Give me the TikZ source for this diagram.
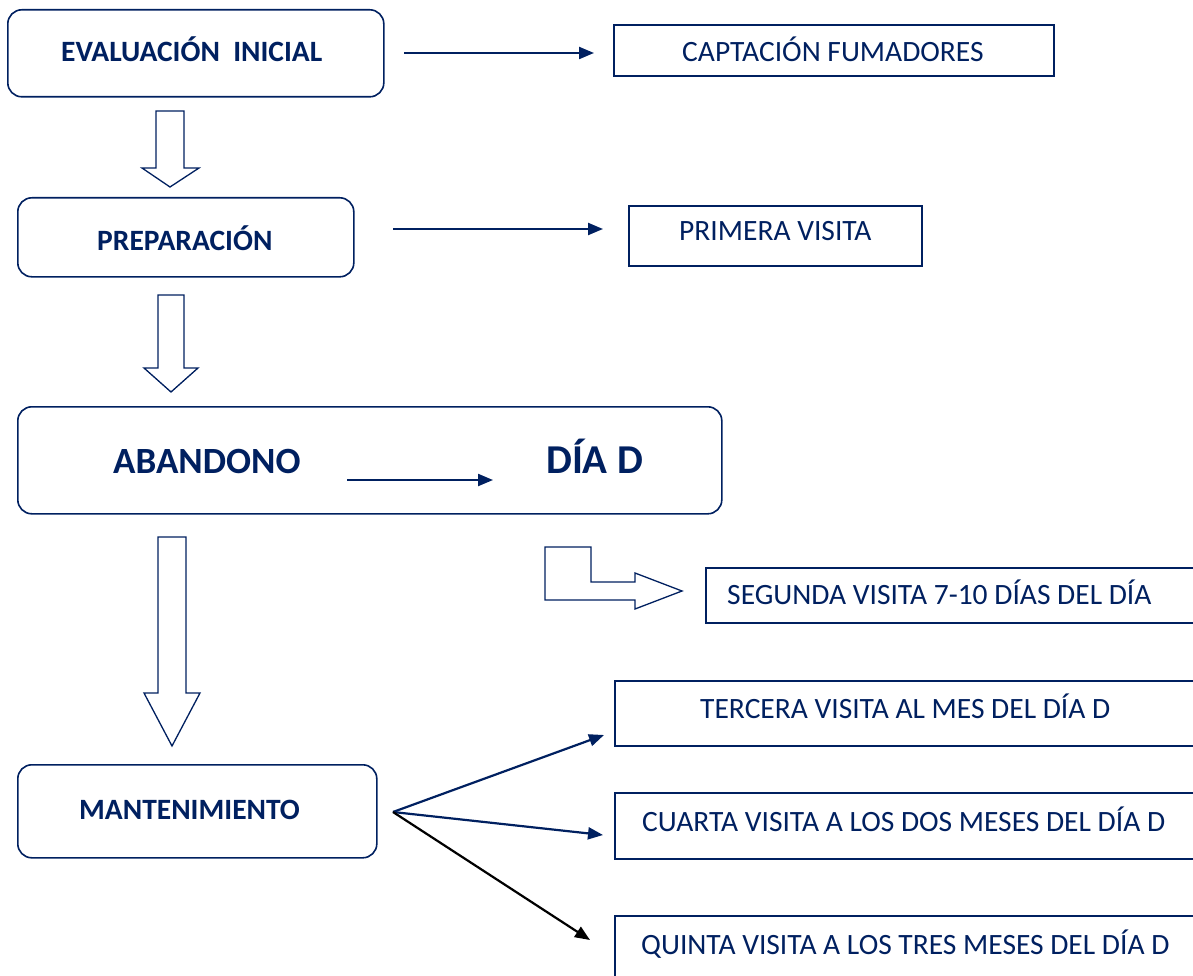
\documentclass[tikz,border=0pt]{standalone}
\usepackage{fontspec}
\setmainfont{Carlito}
\usetikzlibrary{arrows.meta}
\definecolor{navy}{RGB}{0,32,96}
\tikzset{
  rbox/.style={draw=navy, line width=1.6pt, rounded corners=14pt, fill=white, inner sep=0pt},
  sbox/.style={draw=navy, line width=1.6pt, fill=white, inner sep=0pt},
  btxt/.style={text=navy, font=\bfseries\fontsize{29.5}{34}\selectfont, inner sep=0pt, anchor=base west},
  bigtxt/.style={text=navy, font=\bfseries\fontsize{37}{42}\selectfont, inner sep=0pt, anchor=base west},
  rtxt/.style={text=navy, font=\fontsize{29.5}{34}\selectfont, inner sep=0pt, anchor=base west},
  conn/.style={draw=navy, line width=2.2pt, -{Triangle[length=15pt,width=12pt]}},
  connk/.style={draw=black, line width=2.2pt, -{Triangle[length=15pt,width=12pt]}},
  hollow/.style={draw=navy, line width=1.3pt, fill=white, line join=miter}
}
\begin{document}
\begin{tikzpicture}[x=1pt,y=-1pt]
\useasboundingbox (0,0) rectangle (1193,976);
% left boxes
\node[rbox, minimum width=376pt, minimum height=87pt, anchor=north west] (ev) at (7,9) {};
\node[btxt] (evt) at (61,62) {EVALUACIÓN\ \ INICIAL};
\node[rbox, minimum width=336pt, minimum height=79pt, anchor=north west] (pr) at (17,197) {};
\node[btxt] (prt) at (97,250.5) {PREPARACIÓN};
\node[rbox, minimum width=704pt, minimum height=107pt, anchor=north west] (ab) at (17,406) {};
\node[bigtxt] (abt) at (113,473) {ABANDONO};
\node[bigtxt, font=\bfseries\fontsize{41}{46}\selectfont] (dia) at (546,473) {DÍA D};
\node[rbox, minimum width=359pt, minimum height=93pt, anchor=north west] (ma) at (17,764) {};
\node[btxt] (mat) at (79,819.5) {MANTENIMIENTO};
% right boxes
\node[sbox, minimum width=440pt, minimum height=51pt, anchor=north west] (ca) at (613,24) {};
\node[rtxt] (cat) at (682,62) {CAPTACIÓN FUMADORES};
\node[sbox, minimum width=293pt, minimum height=60pt, anchor=north west] (pv) at (628,205) {};
\node[rtxt] (pvt) at (679,241) {PRIMERA VISITA};
\node[sbox, minimum width=500pt, minimum height=55pt, anchor=north west] (sv) at (705,567) {};
\node[rtxt] (svt) at (727,604) {SEGUNDA VISITA 7-10 DÍAS DEL DÍA};
\node[sbox, minimum width=600pt, minimum height=65pt, anchor=north west] (tv) at (614,680) {};
\node[rtxt] (tvt) at (700,718) {TERCERA VISITA AL MES DEL DÍA D};
\node[sbox, minimum width=600pt, minimum height=66pt, anchor=north west] (cv) at (614,792) {};
\node[rtxt] (cvt) at (642,831) {CUARTA VISITA A LOS DOS MESES DEL DÍA D};
\node[sbox, minimum width=600pt, minimum height=70pt, anchor=north west] (qv) at (614,915) {};
\node[rtxt] (qvt) at (641,954) {QUINTA VISITA A LOS TRES MESES DEL DÍA D};
% straight connectors
\coordinate (e1) at (404,53);
\coordinate (e2) at (594,53);
\draw[conn] (e1) -- (e2);
\coordinate (p1) at (393,229);
\coordinate (p2) at (603,229);
\draw[conn] (p1) -- (p2);
\coordinate (a1) at (347,480);
\coordinate (a2) at (493,480);
\draw[conn] (a1) -- (a2);
\coordinate (m0) at (393,812);
\coordinate (m1) at (604,735);
\coordinate (m2) at (603,835);
\coordinate (m3) at (590,940);
\draw[conn] (m0) -- (m1);
\draw[conn] (m0) -- (m2);
\draw[connk] (m0) -- (m3);
% hollow arrows
\draw[hollow] (156,111) -- (184,111) -- (184,168) -- (199,168) -- (170,187) -- (142,168) -- (156,168) -- cycle;
\draw[hollow] (158,295) -- (184,295) -- (184,368) -- (198,368) -- (171,392) -- (144,368) -- (158,368) -- cycle;
\draw[hollow] (158,537) -- (186,537) -- (186,693) -- (200,693) -- (172,746) -- (144,693) -- (158,693) -- cycle;
% bent arrow
\draw[hollow] (545,547) -- (591,547) -- (591,582) -- (635,582) -- (635,573) -- (682,591) -- (635,609) -- (635,600) -- (545,600) -- cycle;
\end{tikzpicture}
\end{document}
